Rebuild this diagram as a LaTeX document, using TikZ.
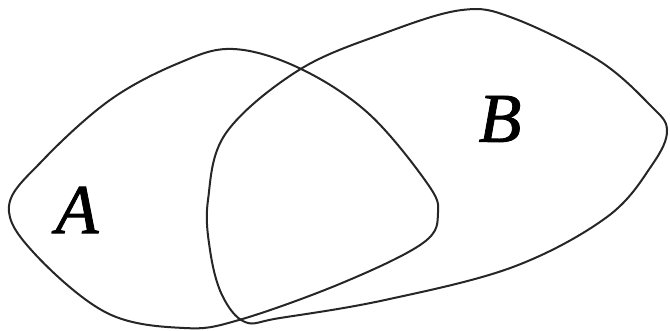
\documentclass[tikz,border=0pt]{standalone}
\usepackage{fontspec}
\setmainfont{Liberation Serif}
\newfontfamily\setlabelfont{Liberation Serif}[ItalicFeatures={FakeBold=1.2}]
\tikzset{blob/.style={draw=black!85, line width=2pt, line join=round},
  setlabel/.style={font=\fontsize{70}{70}\selectfont\setlabelfont\itshape, inner sep=0pt}}
\begin{document}
\begin{tikzpicture}[x=1pt,y=-1pt]
\useasboundingbox (0,0) rectangle (670,331);
% set A
\draw[blob] plot[smooth cycle, tension=0.6] coordinates {
 (9,206) (43,160) (110,100) (179,63) (233,49) (299,68) (368,113)
 (427,183) (438,213) (423,243) (342,283) (239,320) (184,328) (107,313)
 (34,253)};
% set B
\draw[blob] plot[smooth cycle, tension=0.6] coordinates {
 (208,200) (226,133) (299,70) (385,33) (462,10) (513,18) (598,60)
 (650,105) (667,130) (652,165) (607,217) (513,267) (385,300) (280,318)
 (245,322) (222,295) (210,250)};
\node[setlabel] (labelA) at (77,210) {A};
\node[setlabel] (labelB) at (500,119) {B};
\end{tikzpicture}
\end{document}
